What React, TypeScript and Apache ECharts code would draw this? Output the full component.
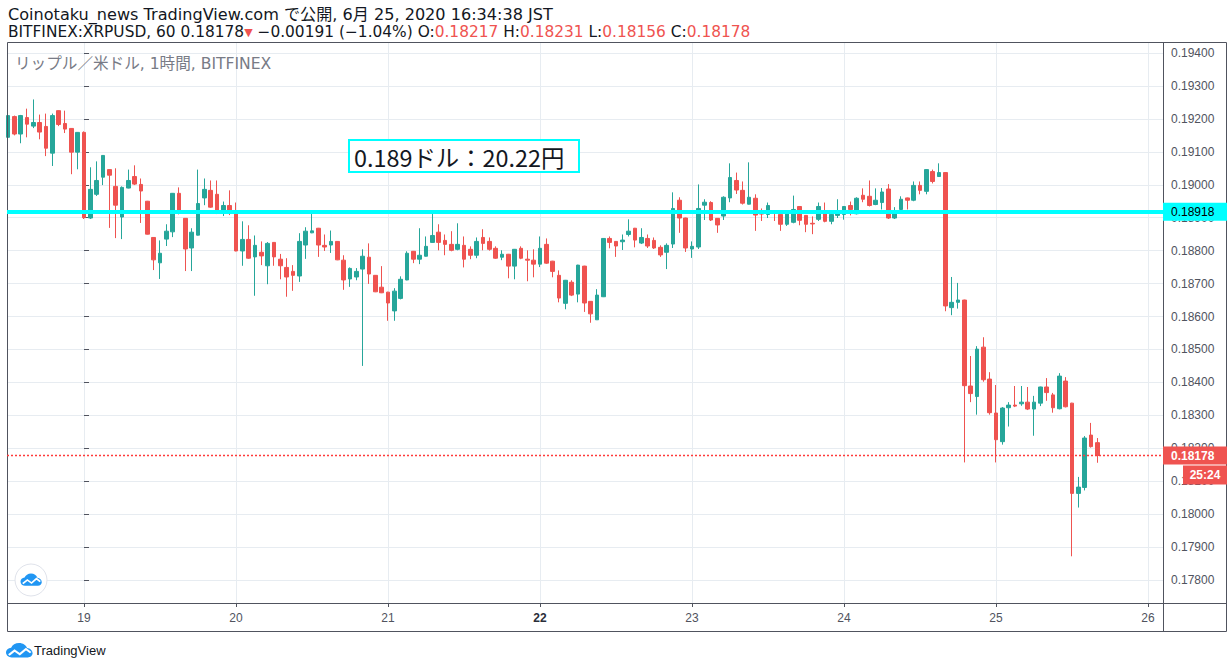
import React, { useEffect, useRef } from "react";
import * as echarts from "echarts";

// ---- data (BITFINEX:XRPUSD, 1h, from 18 Jun 12:00 JST) ----
const opens = [
  0.19144, 0.19207, 0.19154, 0.19204, 0.19178, 0.19189, 0.19177, 0.19096, 0.19225, 0.19186,
  0.19171, 0.19099, 0.19159, 0.18899, 0.18971, 0.19023, 0.19046, 0.18995, 0.18902, 0.18990,
  0.19025, 0.19001, 0.18950, 0.18840, 0.18763, 0.18835, 0.18857, 0.18974, 0.18898, 0.18808,
  0.18847, 0.18960, 0.18983, 0.18971, 0.18923, 0.18937, 0.18914, 0.18799, 0.18834, 0.18781,
  0.18795, 0.18754, 0.18825, 0.18774, 0.18749, 0.18737, 0.18723, 0.18817, 0.18854, 0.18868,
  0.18816, 0.18817, 0.18828, 0.18771, 0.18714, 0.18720, 0.18744, 0.18780, 0.18725, 0.18689,
  0.18674, 0.18617, 0.18655, 0.18711, 0.18798, 0.18774, 0.18783, 0.18825, 0.18856, 0.18831,
  0.18819, 0.18804, 0.18816, 0.18804, 0.18786, 0.18840, 0.18828, 0.18807, 0.18780, 0.18789,
  0.18753, 0.18807, 0.18774, 0.18771, 0.18759, 0.18819, 0.18768, 0.18725, 0.18640, 0.18704,
  0.18668, 0.18753, 0.18646, 0.18590, 0.18660, 0.18837, 0.18828, 0.18827, 0.18849, 0.18868,
  0.18823, 0.18837, 0.18831, 0.18810, 0.18795, 0.18820, 0.18953, 0.18899, 0.18805, 0.18811,
  0.18938, 0.18946, 0.18898, 0.18905, 0.18960, 0.19013, 0.18983, 0.18941, 0.18959, 0.18913,
  0.18910, 0.18915, 0.18910, 0.18880, 0.18886, 0.18934, 0.18907, 0.18883, 0.18895, 0.18915,
  0.18889, 0.18907, 0.18910, 0.18937, 0.18912, 0.18968, 0.18965, 0.18940, 0.18946, 0.18987,
  0.18899, 0.18925, 0.18960, 0.18953, 0.18998, 0.18980, 0.19040, 0.19025, 0.19037, 0.18627,
  0.18643, 0.18650, 0.18389, 0.18357, 0.18507, 0.18410, 0.18307, 0.18220, 0.18323, 0.18331,
  0.18335, 0.18340, 0.18319, 0.18337, 0.18386, 0.18362, 0.18320, 0.18404, 0.18337, 0.18063,
  0.18081, 0.18240, 0.18217,
];
const closes = [
  0.19210, 0.19154, 0.19210, 0.19184, 0.19189, 0.19160, 0.19111, 0.19210, 0.19183, 0.19169,
  0.19099, 0.19159, 0.18900, 0.18986, 0.19013, 0.19089, 0.19029, 0.18938, 0.18992, 0.19013,
  0.19002, 0.18981, 0.18850, 0.18772, 0.18792, 0.18859, 0.18974, 0.18913, 0.18805, 0.18856,
  0.18943, 0.18986, 0.18932, 0.18914, 0.18937, 0.18914, 0.18799, 0.18834, 0.18777, 0.18816,
  0.18784, 0.18822, 0.18781, 0.18754, 0.18720, 0.18725, 0.18828, 0.18859, 0.18860, 0.18817,
  0.18811, 0.18828, 0.18772, 0.18711, 0.18746, 0.18737, 0.18783, 0.18729, 0.18675, 0.18672,
  0.18641, 0.18677, 0.18713, 0.18792, 0.18774, 0.18786, 0.18813, 0.18846, 0.18825, 0.18819,
  0.18801, 0.18819, 0.18774, 0.18786, 0.18828, 0.18822, 0.18804, 0.18777, 0.18789, 0.18753,
  0.18804, 0.18777, 0.18771, 0.18759, 0.18807, 0.18762, 0.18737, 0.18656, 0.18710, 0.18665,
  0.18756, 0.18641, 0.18608, 0.18665, 0.18837, 0.18825, 0.18814, 0.18832, 0.18859, 0.18832,
  0.18840, 0.18814, 0.18808, 0.18787, 0.18816, 0.18928, 0.18899, 0.18808, 0.18813, 0.18928,
  0.18947, 0.18893, 0.18878, 0.18962, 0.19022, 0.18984, 0.18944, 0.18962, 0.18908, 0.18911,
  0.18937, 0.18913, 0.18880, 0.18913, 0.18925, 0.18892, 0.18880, 0.18881, 0.18934, 0.18889,
  0.18910, 0.18915, 0.18934, 0.18925, 0.18959, 0.18956, 0.18937, 0.18953, 0.18978, 0.18899,
  0.18915, 0.18956, 0.18953, 0.18998, 0.18983, 0.19046, 0.19010, 0.19037, 0.18632, 0.18643,
  0.18650, 0.18390, 0.18366, 0.18501, 0.18408, 0.18308, 0.18226, 0.18322, 0.18331, 0.18328,
  0.18340, 0.18319, 0.18340, 0.18386, 0.18369, 0.18323, 0.18419, 0.18326, 0.18063, 0.18082,
  0.18231, 0.18205, 0.18178,
];
const lows = [
  0.19135, 0.19150, 0.19126, 0.19144, 0.19172, 0.19138, 0.19087, 0.19057, 0.19178, 0.19157,
  0.19032, 0.19047, 0.18896, 0.18896, 0.18966, 0.18999, 0.18869, 0.18838, 0.18835, 0.18989,
  0.18999, 0.18884, 0.18849, 0.18741, 0.18714, 0.18814, 0.18841, 0.18910, 0.18738, 0.18738,
  0.18846, 0.18938, 0.18930, 0.18911, 0.18905, 0.18908, 0.18798, 0.18754, 0.18775, 0.18663,
  0.18756, 0.18698, 0.18754, 0.18713, 0.18660, 0.18678, 0.18705, 0.18775, 0.18853, 0.18781,
  0.18799, 0.18793, 0.18771, 0.18681, 0.18690, 0.18710, 0.18450, 0.18699, 0.18674, 0.18671,
  0.18587, 0.18587, 0.18652, 0.18710, 0.18762, 0.18759, 0.18782, 0.18824, 0.18801, 0.18786,
  0.18798, 0.18801, 0.18749, 0.18774, 0.18777, 0.18801, 0.18800, 0.18775, 0.18771, 0.18716,
  0.18713, 0.18774, 0.18707, 0.18719, 0.18750, 0.18760, 0.18719, 0.18643, 0.18622, 0.18662,
  0.18643, 0.18614, 0.18581, 0.18590, 0.18659, 0.18807, 0.18781, 0.18802, 0.18843, 0.18810,
  0.18820, 0.18808, 0.18805, 0.18781, 0.18744, 0.18808, 0.18854, 0.18796, 0.18778, 0.18805,
  0.18893, 0.18890, 0.18854, 0.18893, 0.18947, 0.18972, 0.18940, 0.18940, 0.18860, 0.18890,
  0.18899, 0.18890, 0.18860, 0.18875, 0.18883, 0.18877, 0.18856, 0.18850, 0.18890, 0.18886,
  0.18880, 0.18899, 0.18894, 0.18907, 0.18910, 0.18947, 0.18934, 0.18938, 0.18925, 0.18896,
  0.18896, 0.18920, 0.18925, 0.18950, 0.18971, 0.18971, 0.19004, 0.19024, 0.18616, 0.18604,
  0.18624, 0.18157, 0.18340, 0.18302, 0.18402, 0.18302, 0.18157, 0.18211, 0.18266, 0.18325,
  0.18329, 0.18316, 0.18238, 0.18328, 0.18344, 0.18308, 0.18318, 0.18324, 0.17872, 0.18020,
  0.18072, 0.18202, 0.18156,
];
const highs = [
  0.19215, 0.19210, 0.19212, 0.19231, 0.19259, 0.19213, 0.19216, 0.19216, 0.19226, 0.19225,
  0.19172, 0.19160, 0.19162, 0.19053, 0.19071, 0.19090, 0.19047, 0.19050, 0.18995, 0.19046,
  0.19059, 0.19019, 0.18951, 0.18841, 0.18831, 0.18880, 0.18975, 0.18992, 0.18899, 0.18868,
  0.19046, 0.19019, 0.19013, 0.19013, 0.18949, 0.18983, 0.18946, 0.18889, 0.18877, 0.18846,
  0.18828, 0.18826, 0.18826, 0.18790, 0.18777, 0.18756, 0.18853, 0.18871, 0.18914, 0.18869,
  0.18849, 0.18861, 0.18829, 0.18786, 0.18749, 0.18747, 0.18804, 0.18822, 0.18726, 0.18753,
  0.18675, 0.18686, 0.18722, 0.18798, 0.18799, 0.18868, 0.18843, 0.18913, 0.18880, 0.18849,
  0.18859, 0.18883, 0.18843, 0.18813, 0.18840, 0.18865, 0.18840, 0.18813, 0.18801, 0.18790,
  0.18805, 0.18813, 0.18801, 0.18804, 0.18843, 0.18837, 0.18769, 0.18740, 0.18711, 0.18710,
  0.18757, 0.18754, 0.18647, 0.18683, 0.18838, 0.18843, 0.18829, 0.18849, 0.18895, 0.18869,
  0.18868, 0.18849, 0.18840, 0.18816, 0.18822, 0.18977, 0.18962, 0.18900, 0.18828, 0.19001,
  0.18956, 0.18950, 0.18899, 0.18965, 0.19065, 0.19037, 0.19010, 0.19068, 0.18971, 0.18928,
  0.18946, 0.18920, 0.18911, 0.18915, 0.18967, 0.18935, 0.18908, 0.18904, 0.18946, 0.18946,
  0.18912, 0.18956, 0.18935, 0.18949, 0.18962, 0.18989, 0.19013, 0.18989, 0.18990, 0.19002,
  0.18932, 0.18965, 0.18961, 0.19010, 0.19010, 0.19047, 0.19046, 0.19065, 0.19038, 0.18720,
  0.18702, 0.18651, 0.18480, 0.18510, 0.18537, 0.18431, 0.18392, 0.18325, 0.18340, 0.18389,
  0.18389, 0.18386, 0.18359, 0.18387, 0.18413, 0.18368, 0.18428, 0.18416, 0.18338, 0.18113,
  0.18237, 0.18277, 0.18231,
];
// hour offset of the first bar relative to 19 Jun 00:00
const firstBarHour = -12;
const dayLabels = ["19", "20", "21", "22", "23", "24", "25", "26"];
const boldDay = "22";
const levelPrice = 0.18918;
const lastPrice = 0.18178;
const countdown = "25:24";
const headerLine1 = "Coinotaku_news TradingView.com で公開, 6月 25, 2020 16:34:38 JST";
const symbolText = "BITFINEX:XRPUSD, 60 0.18178";
const changeText = " −0.00191 (−1.04%) ";
const ohlcLabels = ["O:", "H:", "L:", "C:"];
const ohlcValues = ["0.18217", "0.18231", "0.18156", "0.18178"];
const watermark = "リップル／米ドル, 1時間, BITFINEX";
const noteText = "0.189ドル：20.22円";

const UP = "#26a69a";
const DOWN = "#ef5350";
const AXIS = "#50535e";
const GRID = "#e7ecf1";
const LATIN = "'Liberation Sans', Arial, sans-serif";
const UI = "'DejaVu Sans', 'Noto Sans CJK JP', sans-serif";

echarts.graphic.registerShape(
  "tvcloud",
  echarts.graphic.extendPath(
    "M6 18C2.7 18 0 15.3 0 12C0 8.9 2.4 6.3 5.4 6C6.6 2.5 9.9 0 13.8 0C17.8 0 21.2 2.7 22.2 6.4C25.5 6.8 28 9.6 28 12.9C28 15.7 25.7 18 22.9 18Z",
    {}
  ) as any
);

function tvIcon(id: string, x: number, y: number, sx: number, sy: number) {
  return {
    type: "group",
    id,
    x,
    y,
    scaleX: sx,
    scaleY: sy,
    children: [
      { type: "tvcloud", id: id + "Cloud", z: 31, style: { fill: "#2196f3" } },
      {
        type: "polyline",
        id: id + "Zig",
        z: 32,
        shape: { points: [[3, 15], [9, 9.5], [14.5, 14], [21, 7.5], [26, 12]] },
        style: { stroke: "#ffffff", lineWidth: 2.4, fill: "none" },
      },
    ],
  };
}

export default function App() {
  const ref = useRef<HTMLDivElement>(null);
  useEffect(() => {
    const el = ref.current;
    if (!el) return;
    const chart = echarts.init(el, null, { renderer: "svg" });

    const data = opens.map((o, i) => [firstBarHour + i, o, closes[i], lows[i], highs[i]]);

    let rich2 = `{k|${symbolText}}{t|▼}{k|${changeText}}`;
    ohlcLabels.forEach((l, i) => {
      rich2 += `{k|${i ? " " : ""}${l}}{r|${ohlcValues[i]}}`;
    });

    const option: any = {
      animation: false,
      backgroundColor: "#ffffff",
      grid: { left: 7, top: 42, right: 67, bottom: 66 },
      xAxis: {
        type: "value",
        min: -12.16,
        max: 170.37,
        minInterval: 24,
        maxInterval: 24,
        splitNumber: 7,
        axisLine: { show: false },
        axisTick: { show: true, length: 4, lineStyle: { color: AXIS } },
        splitLine: { show: true, lineStyle: { color: GRID, width: 1 } },
        axisLabel: {
          margin: 9,
          color: AXIS,
          fontSize: 12,
          fontFamily: LATIN,
          showMinLabel: false,
          showMaxLabel: false,
          formatter: (v: number) => {
            const k = v / 24;
            if (Math.abs(k - Math.round(k)) > 1e-6) return "";
            const s = dayLabels[Math.round(k)] ?? "";
            return s === boldDay ? `{b|${s}}` : s;
          },
          rich: { b: { fontWeight: "bold", color: "#2a2e39", fontSize: 12, fontFamily: LATIN } },
        },
      },
      yAxis: {
        type: "value",
        position: "right",
        min: 0.177302,
        max: 0.194334,
        minInterval: 0.001,
        maxInterval: 0.001,
        splitNumber: 17,
        axisLine: { show: false },
        axisTick: { show: true, length: 5, lineStyle: { color: AXIS } },
        splitLine: { show: true, lineStyle: { color: GRID, width: 1 } },
        axisLabel: {
          margin: 8,
          color: AXIS,
          fontSize: 12,
          fontFamily: LATIN,
          showMinLabel: false,
          showMaxLabel: false,
          formatter: (v: number) => {
            const k = v * 1000;
            if (Math.abs(k - Math.round(k)) > 1e-6) return "";
            return v.toFixed(5);
          },
        },
      },
      series: [
        {
          type: "candlestick",
          data,
          barWidth: 4,
          itemStyle: {
            color: UP,
            color0: DOWN,
            borderColor: UP,
            borderColor0: DOWN,
            borderWidth: 1,
          },
          markLine: {
            symbol: ["none", "none"],
            silent: true,
            precision: 5,
            z: 20,
            data: [
              {
                yAxis: levelPrice,
                lineStyle: { color: "#00ffff", width: 4, type: "solid", opacity: 1 },
                label: {
                  show: true,
                  position: "end",
                  distance: 0,
                  formatter: (p: any) => Number(p.value).toFixed(5),
                  backgroundColor: "#00ffff",
                  color: "#000000",
                  fontSize: 12,
                  fontFamily: LATIN,
                  lineHeight: 13,
                  width: 56,
                  padding: [3, 0, 2, 8],
                },
              },
              {
                yAxis: lastPrice,
                lineStyle: { color: "#ff3b3b", width: 1.3, type: [2, 2], opacity: 1 },
                label: {
                  show: true,
                  position: "end",
                  distance: 0,
                  formatter: (p: any) => Number(p.value).toFixed(5),
                  backgroundColor: DOWN,
                  color: "#ffffff",
                  fontWeight: "bold",
                  fontSize: 12,
                  fontFamily: LATIN,
                  lineHeight: 13,
                  width: 56,
                  padding: [3, 0, 2, 8],
                },
              },
            ],
          },
        },
      ],
      graphic: {
        elements: [
          {
            type: "text",
            id: "hdr1",
            x: 8,
            y: 14,
            style: {
              text: headerLine1,
              fill: "#131722",
              font: `16.1px ${UI}`,
              lineHeight: 16,
              verticalAlign: "middle",
            },
          },
          {
            type: "text",
            id: "hdr2",
            x: 8,
            y: 32,
            style: {
              text: rich2,
              verticalAlign: "middle",
              rich: {
                k: { fill: "#131722", fontSize: 15.4, fontFamily: UI, lineHeight: 16 },
                r: { fill: DOWN, fontSize: 15.4, fontFamily: UI, lineHeight: 16 },
                t: { fill: DOWN, fontSize: 11, fontFamily: "'DejaVu Sans', sans-serif", lineHeight: 16 },
              },
            },
          },
          {
            type: "text",
            id: "wm",
            x: 15,
            y: 64,
            z: 1,
            style: {
              text: watermark,
              fill: "#787b86",
              font: `15.6px ${UI}`,
              verticalAlign: "middle",
            },
          },
          {
            type: "rect",
            id: "noteBox",
            z: 25,
            shape: { x: 349, y: 140, width: 230, height: 32 },
            style: { fill: "#ffffff", stroke: "#00ffff", lineWidth: 2 },
          },
          {
            type: "text",
            id: "noteText",
            z: 26,
            x: 354,
            y: 156.5,
            style: {
              text: noteText,
              fill: "#131722",
              font: `23.4px 'Noto Sans CJK JP', sans-serif`,
              verticalAlign: "middle",
            },
          },
          {
            type: "rect",
            id: "frame",
            z: 15,
            silent: true,
            shape: { x: 7.5, y: 42.5, width: 1219, height: 589 },
            style: { fill: "none", stroke: AXIS, lineWidth: 1 },
          },
          {
            type: "line",
            id: "vsep",
            z: 15,
            silent: true,
            shape: { x1: 1163.5, y1: 42, x2: 1163.5, y2: 632 },
            style: { stroke: AXIS, lineWidth: 1 },
          },
          {
            type: "line",
            id: "hsep",
            z: 15,
            silent: true,
            shape: { x1: 7, y1: 603.5, x2: 1227, y2: 603.5 },
            style: { stroke: AXIS, lineWidth: 1 },
          },
          {
            type: "circle",
            id: "logoCircle",
            z: 28,
            shape: { cx: 31, cy: 580, r: 16 },
            style: { fill: "#ffffff", stroke: "#e0e3eb", lineWidth: 1 },
          },
          tvIcon("logoIcon", 20.5, 573.5, 0.76, 0.68),
          tvIcon("footIcon", 6, 643, 0.95, 0.8),
          {
            type: "text",
            id: "footText",
            x: 34,
            y: 650,
            style: {
              text: "TradingView",
              fill: "#131722",
              font: `13px ${LATIN}`,
              verticalAlign: "middle",
            },
          },
        ],
      },
    };

    chart.setOption(option);

    const py = chart.convertToPixel({ yAxisIndex: 0 }, lastPrice) as number;
    chart.setOption({
      graphic: {
        elements: [
          {
            type: "rect",
            id: "cdRect",
            z: 40,
            shape: { x: 1183, y: py + 10, width: 44, height: 19 },
            style: { fill: DOWN },
          },
          {
            type: "text",
            id: "cdText",
            z: 41,
            x: 1205,
            y: py + 19.5,
            style: {
              text: countdown,
              fill: "#ffffff",
              font: `bold 12px ${LATIN}`,
              align: "center",
              verticalAlign: "middle",
            },
          },
        ],
      },
    });

    return () => chart.dispose();
  }, []);

  return (
    <div
      ref={ref}
      style={{ position: "fixed", left: 0, top: 0, width: 1230, height: 669, background: "#ffffff" }}
    />
  );
}
